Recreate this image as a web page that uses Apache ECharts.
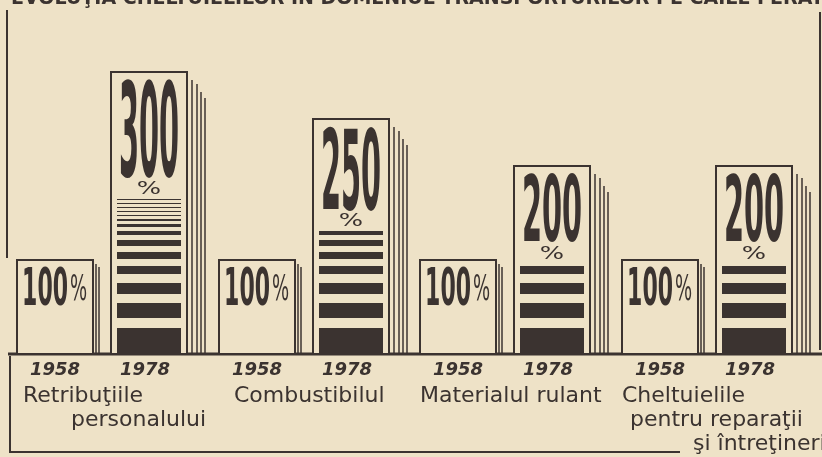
<!DOCTYPE html>
<html>
<head>
<meta charset="utf-8">
<script src="https://cdn.jsdelivr.net/npm/echarts@6/dist/echarts.min.js"></script>
<style>
  html, body { margin: 0; padding: 0; background: #eee2c7; }
  #chart { width: 822px; height: 457px; }
</style>
</head>
<body>
<div id="chart"></div>
<script>
// date
const categories = ['Retribuţiile personalului', 'Combustibilul', 'Materialul rulant', 'Cheltuielile pentru reparaţii şi întreţineri'];
const nameLines = [
  ['Retribuţiile', 'personalului'],
  ['Combustibilul'],
  ['Materialul rulant'],
  ['Cheltuielile', 'pentru reparaţii', 'şi întreţineri']
];
const years = ['1958', '1978'];
const values1958 = [100, 100, 100, 100];
const values1978 = [300, 250, 200, 200];
const titleText = 'EVOLUŢIA CHELTUIELILOR ÎN DOMENIUL TRANSPORTURILOR PE CĂILE FERATE';

// aspect
const INK = '#3b3330';
const PAPER = '#eee2c7';
const FONT = "'DejaVu Sans', sans-serif";
const BAR_W = 76;
const lineIndent = [[6, 54], [15], [0], [0, 8, 71]];
const stripePattern = [[26, 10], [15, 9], [11, 9], [8, 7], [7, 6], [6, 5], [4, 4], [3, 3], [2, 3]];

const chart = echarts.init(document.getElementById('chart'));

function pageLines(x, y0, y1, offs) {
  return offs.map(([dx, dy]) => ({
    type: 'line',
    shape: { x1: x + dx, y1: y0 + dy, x2: x + dx, y2: y1 },
    style: { stroke: INK, lineWidth: 1.5 }
  }));
}

// 1958: cutie mica + etichete sub axa
function render1958(params, api) {
  const i = api.value(0), v = api.value(1);
  const p = api.coord([i, v]), b = api.coord([i, 0]);
  const x = Math.round(p[0] - 47 - BAR_W / 2), y0 = p[1], y1 = b[1];
  const cx = x + BAR_W / 2;
  const children = pageLines(x + BAR_W, y0, y1, [[3, 4], [6, 7]]);
  children.push({ type: 'rect', shape: { x: x, y: y0, width: BAR_W, height: y1 - y0 },
    style: { fill: PAPER, stroke: INK, lineWidth: 2 } });
  children.push({ type: 'text', x: cx + 13, y: y0 + 32, scaleX: 1, scaleY: 2.35,
    style: { text: String(v), fontFamily: FONT, fontWeight: 'bold', fontSize: 22, fill: INK, align: 'right', verticalAlign: 'middle' } });
  children.push({ type: 'text', x: cx + 15, y: y0 + 31, scaleX: 0.95, scaleY: 1.85,
    style: { text: '%', fontFamily: FONT, fontSize: 19, fill: INK, align: 'left', verticalAlign: 'middle' } });
  children.push({ type: 'text', x: cx, y: y1 + 16,
    style: { text: years[0], fontFamily: FONT, fontWeight: 'bold', fontStyle: 'italic', fontSize: 18, fill: INK, align: 'center', verticalAlign: 'middle' } });
  nameLines[i].forEach((t, j) => {
    children.push({ type: 'text', x: x + lineIndent[i][j], y: y1 + 42 + 24 * j,
      style: { text: t, fontFamily: FONT, fontSize: 22, fill: INK, align: 'left', verticalAlign: 'middle' } });
  });
  return { type: 'group', children: children };
}

// 1978: bloc inalt cu cifra mare si dungi
function render1978(params, api) {
  const i = api.value(0), v = api.value(1);
  const p = api.coord([i, v]), b = api.coord([i, 0]);
  const x = Math.round(p[0] + 47 - BAR_W / 2), y0 = p[1], y1 = b[1], h = y1 - y0;
  const cx = x + BAR_W / 2;
  const children = pageLines(x + BAR_W, y0, y1, [[5, 8], [10, 12], [14, 20], [18, 26]]);
  children.push({ type: 'rect', shape: { x: x, y: y0, width: BAR_W, height: h },
    style: { fill: PAPER, stroke: INK, lineWidth: 2 } });
  const numH = 0.31 * h + 8;
  children.push({ type: 'text', x: cx, y: y0 + 10 + numH * 0.63, scaleX: 1.03, scaleY: numH / 20.4,
    style: { text: String(v), fontFamily: FONT, fontWeight: 'bold', fontSize: 28, fill: INK, align: 'center', verticalAlign: 'middle' } });
  children.push({ type: 'text', x: cx, y: y0 + 10 + numH + 12, scaleX: 1.6, scaleY: 1.1,
    style: { text: '%', fontFamily: FONT, fontSize: 16, fill: INK, align: 'center', verticalAlign: 'middle' } });
  // dungi de jos in sus
  const limit = y0 + 10 + numH + 20;
  let yb = y1;
  let k = 0;
  while (true) {
    const pr = k < stripePattern.length ? stripePattern[k] : [1, 3];
    const top = yb - pr[0];
    if (top < limit) break;
    children.push({ type: 'rect', shape: { x: x + 6, y: top, width: BAR_W - 12, height: pr[0] },
      style: { fill: INK } });
    yb = top - pr[1];
    k++;
  }
  children.push({ type: 'text', x: cx - 4, y: y1 + 16,
    style: { text: years[1], fontFamily: FONT, fontWeight: 'bold', fontStyle: 'italic', fontSize: 18, fill: INK, align: 'center', verticalAlign: 'middle' } });
  return { type: 'group', children: children };
}

const option = {
  backgroundColor: PAPER,
  animation: false,
  title: {
    text: titleText,
    left: 6,
    top: -15,
    textStyle: { fontFamily: FONT, fontSize: 19, fontWeight: 'bold', color: INK }
  },
  grid: { left: 1, right: 14, top: 72, bottom: 103 },
  xAxis: { type: 'category', data: categories, show: false },
  yAxis: { type: 'value', min: 0, max: 300, show: false },
  graphic: [
    { type: 'line', shape: { x1: 7, y1: 10, x2: 7, y2: 258 }, style: { stroke: INK, lineWidth: 2 } },
    { type: 'line', shape: { x1: 820, y1: 12, x2: 820, y2: 350 }, style: { stroke: INK, lineWidth: 2 } },
    { type: 'line', shape: { x1: 8, y1: 354, x2: 822, y2: 354 }, style: { stroke: INK, lineWidth: 3 } },
    { type: 'line', shape: { x1: 10, y1: 356, x2: 10, y2: 453 }, style: { stroke: INK, lineWidth: 2 } },
    { type: 'line', shape: { x1: 10, y1: 452, x2: 680, y2: 452 }, style: { stroke: INK, lineWidth: 2 } }
  ],
  series: [
    { name: years[0], type: 'custom', renderItem: render1958, data: values1958.map((v, i) => [i, v]), z: 3 },
    { name: years[1], type: 'custom', renderItem: render1978, data: values1978.map((v, i) => [i, v]), z: 2 }
  ]
};

chart.setOption(option);
</script>
</body>
</html>
